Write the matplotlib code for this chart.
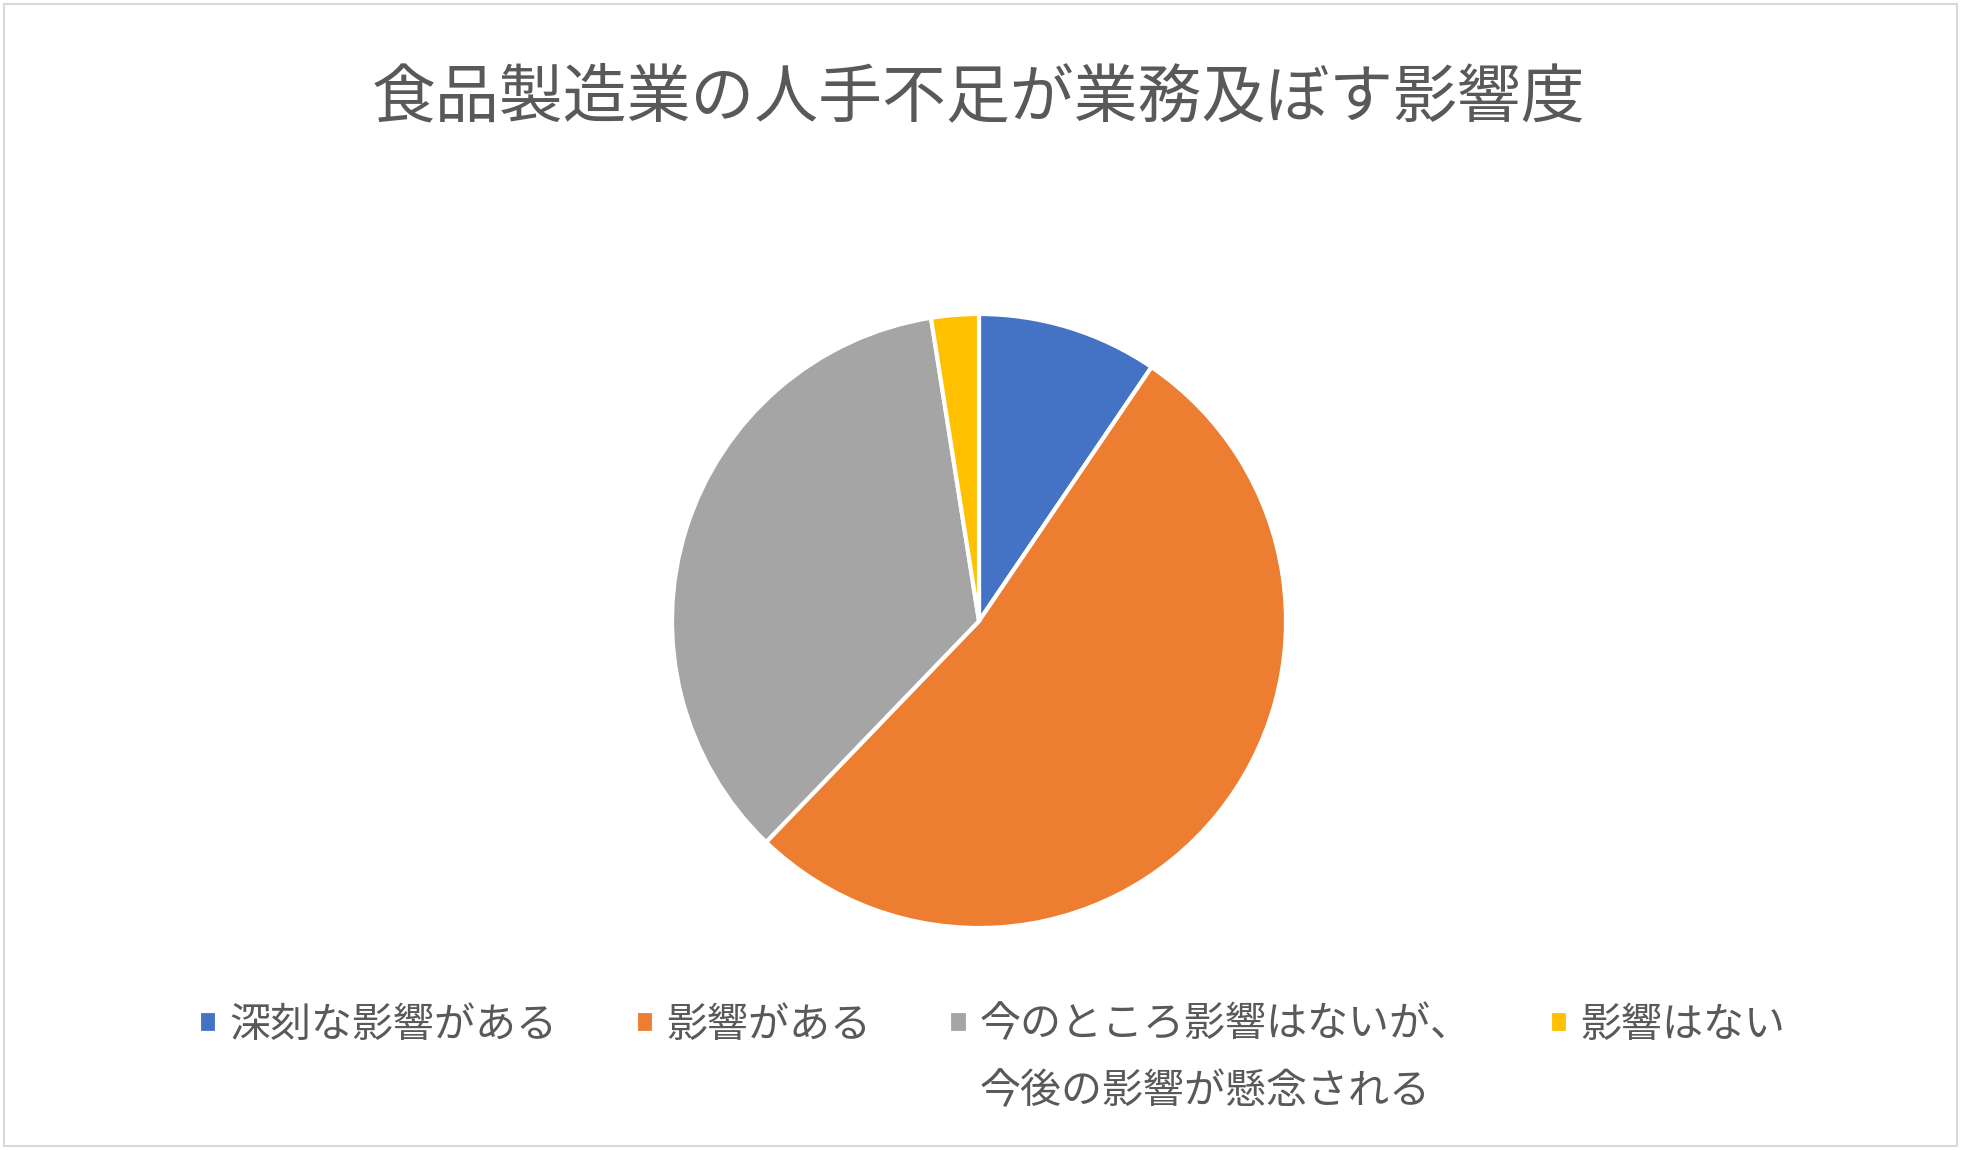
import matplotlib
matplotlib.use("Agg")
import matplotlib.pyplot as plt
from matplotlib.patches import Rectangle

plt.rcParams['font.family'] = ['Noto Sans CJK JP', 'DejaVu Sans']

title = "食品製造業の人手不足が業務及ぼす影響度"
categories = ["深刻な影響がある", "影響がある", "今のところ影響はないが、", "影響はない"]
category_line2 = "今後の影響が懸念される"
values = [9.5, 52.7, 35.3, 2.5]
colors = ["#4472C4", "#ED7D31", "#A5A5A5", "#FFC000"]
text_color = "#595959"

W, H = 1961, 1150
fig = plt.figure(figsize=(W / 100, H / 100), dpi=100)
fig.patch.set_facecolor("white")

# border
fig.patches.append(Rectangle((4 / W, 4 / H), (W - 8) / W, (H - 8) / H,
                             transform=fig.transFigure, fill=False,
                             edgecolor="#D9D9D9", linewidth=1.5))

# pie axes: center (979, 621) px, radius 307 px
cx, cy, r = 979, 621, 307
ax = fig.add_axes([(cx - r) / W, (H - cy - r) / H, 2 * r / W, 2 * r / H])
wedges, _ = ax.pie(values, colors=colors, startangle=90, counterclock=False,
                   radius=1.0,
                   wedgeprops=dict(edgecolor="white", linewidth=3))
ax.set_xlim(-1.0, 1.0)
ax.set_ylim(-1.0, 1.0)
ax.set_aspect("equal")
ax.axis("off")

fig.text(979 / W, 1 - 98 / H, title, ha="center", va="center",
         fontsize=46, color=text_color)

leg = fig.legend(wedges, categories, loc="center", ncol=4,
                 bbox_to_anchor=(0.506, 1 - 1025 / H), frameon=False,
                 fontsize=29.5, handlelength=0.45, handleheight=0.45,
                 handletextpad=0.3, columnspacing=1.9, labelcolor=text_color,
                 borderpad=0, borderaxespad=0)

fig.canvas.draw()
t3 = leg.get_texts()[2]
bb = t3.get_window_extent()
inv = fig.transFigure.inverted()
x0, y0 = inv.transform((bb.x0, bb.y0))
fig.text(x0, 1 - 1092 / H, category_line2, ha="left", va="center",
         fontsize=29.5, color=text_color)

fig.savefig("out.png", dpi=100, facecolor="white")
